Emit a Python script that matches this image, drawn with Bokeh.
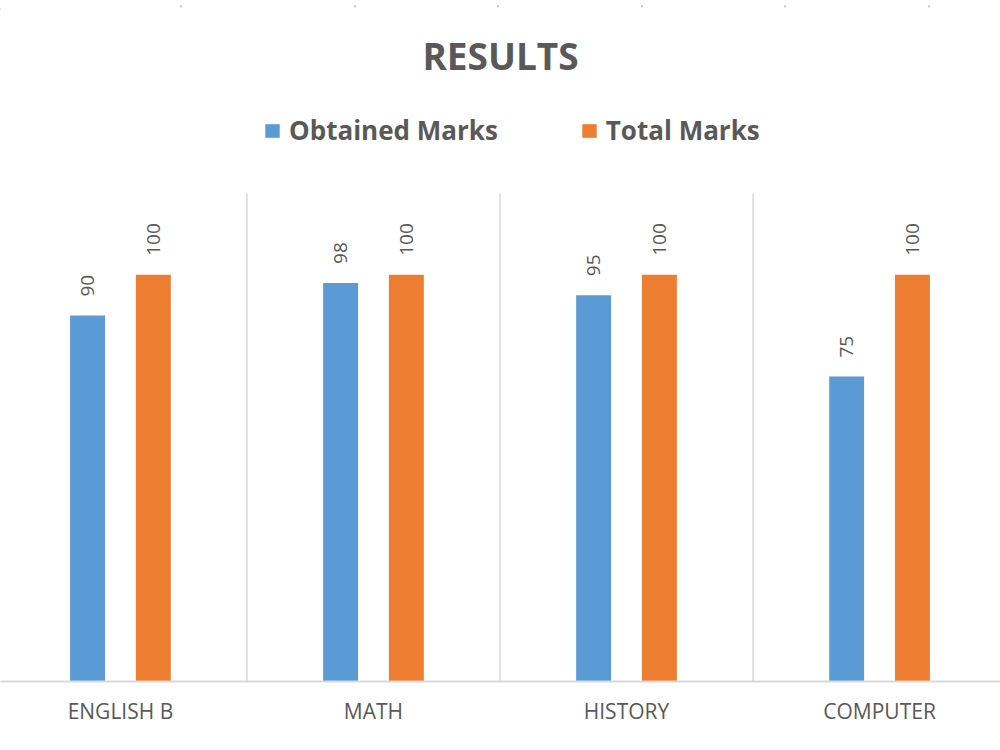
from bokeh.plotting import figure
from bokeh.models import ColumnDataSource, FixedTicker, Legend, LegendItem, Range1d, Div, Label
from bokeh.layouts import column
from bokeh.transform import dodge
from bokeh.core.properties import value
from bokeh.embed import file_html
from bokeh.resources import INLINE
import math

# ---- data ----
title_text = "RESULTS"
subjects = ["ENGLISH B", "MATH", "HISTORY", "COMPUTER"]
obtained = [90, 98, 95, 75]
total = [100, 100, 100, 100]
series_names = ["Obtained Marks", "Total Marks"]
colors = ["#5B9BD5", "#ED7D31"]
axis_max = 120

idx = list(range(len(subjects)))
src = ColumnDataSource(dict(x=idx, obtained=obtained, total=total,
                            obtained_lbl=[str(v) for v in obtained],
                            total_lbl=[str(v) for v in total]))

FONT = "Open Sans"
GRAY = "#595959"

TOP_STRIP = 7
BOTTOM_STRIP = 5
FIG_H = 750 - TOP_STRIP - BOTTOM_STRIP
FRAME_BOTTOM = 681 - TOP_STRIP          # frame spans from the figure top to the axis
px_per_unit = (681 - 193) / axis_max
y_end = FRAME_BOTTOM / px_per_unit

p = figure(width=1000, height=FIG_H, output_backend="svg", toolbar_location=None, title=None,
           x_range=Range1d(-0.474, 3.478), y_range=Range1d(0, y_end),
           min_border_left=0, min_border_right=0, min_border_bottom=FIG_H - FRAME_BOTTOM,
           min_border_top=0)
p.outline_line_color = None
p.background_fill_color = "white"
p.border_fill_color = "white"

# chart title
p.add_layout(Label(x=500, y=FRAME_BOTTOM - (55 - TOP_STRIP), x_units="screen", y_units="screen",
                   text=title_text, text_align="center", text_baseline="middle",
                   text_font=FONT, text_font_size="37px", text_font_style="bold",
                   text_color=GRAY))

# category separators (between categories, from 0 to axis max)
seps = [i + 0.5 for i in idx[:-1]]
p.segment(x0=seps, y0=[0] * len(seps), x1=seps, y1=[axis_max] * len(seps),
          line_color="#d9d9d9", line_width=1.5)

bw = 0.138
off = 0.13
r1 = p.vbar(x=dodge("x", -off, range=p.x_range), top="obtained", width=bw, source=src,
            fill_color=colors[0], line_color=None)
r2 = p.vbar(x=dodge("x", off, range=p.x_range), top="total", width=bw, source=src,
            fill_color=colors[1], line_color=None)

for col, lbl, o in (("obtained", "obtained_lbl", -off), ("total", "total_lbl", off)):
    p.text(x=dodge("x", o, range=p.x_range), y=col, text=lbl, source=src,
           angle=math.pi / 2, text_align="left", text_baseline="middle",
           y_offset=-19, text_font=value(FONT), text_font_size="19px", text_color=GRAY)

legend = Legend(items=[LegendItem(label=series_names[0], renderers=[r1]),
                       LegendItem(label=series_names[1], renderers=[r2])],
                orientation="horizontal", location=(263, 533),
                label_text_font=FONT, label_text_font_size="26px", label_text_font_style="bold",
                label_text_color=GRAY, glyph_width=18, glyph_height=17, label_standoff=8,
                spacing=82, border_line_color=None, background_fill_alpha=0,
                padding=0, margin=0)
p.add_layout(legend, "center")

# axes / grid
p.yaxis.visible = False
p.ygrid.grid_line_color = None
p.xgrid.grid_line_color = None
p.xaxis.ticker = FixedTicker(ticks=idx)
p.xaxis.major_label_overrides = {i: s for i, s in enumerate(subjects)}
p.xaxis.axis_line_color = "#d9d9d9"
p.xaxis.axis_line_width = 2
p.xaxis.major_tick_line_color = None
p.xaxis.minor_tick_line_color = None
p.xaxis.major_label_text_font = FONT
p.xaxis.major_label_text_font_size = "21px"
p.xaxis.major_label_text_color = GRAY
p.xaxis.major_label_standoff = 9

# spreadsheet cell borders visible around the chart
cells = [180, 354, 497, 641, 784, 928]
def strip(h, line_at, v_top, v_h):
    parts = [f'<div style="position:absolute;left:{c}px;top:{v_top}px;width:2px;height:{v_h}px;background:#d0d0d0"></div>'
             for c in cells]
    parts.append(f'<div style="position:absolute;left:0px;top:{line_at}px;width:1000px;height:2px;background:#d0d0d0"></div>')
    return Div(text='<div style="position:relative;width:1000px;height:%dpx;overflow:hidden">%s</div>'
                    % (h, "".join(parts)),
               width=1000, height=h, margin=0)

layout = column(strip(TOP_STRIP, 3, 0, 4), p, strip(BOTTOM_STRIP, 0, 0, BOTTOM_STRIP), spacing=0)
open("out.html", "w").write(file_html(layout, INLINE))
